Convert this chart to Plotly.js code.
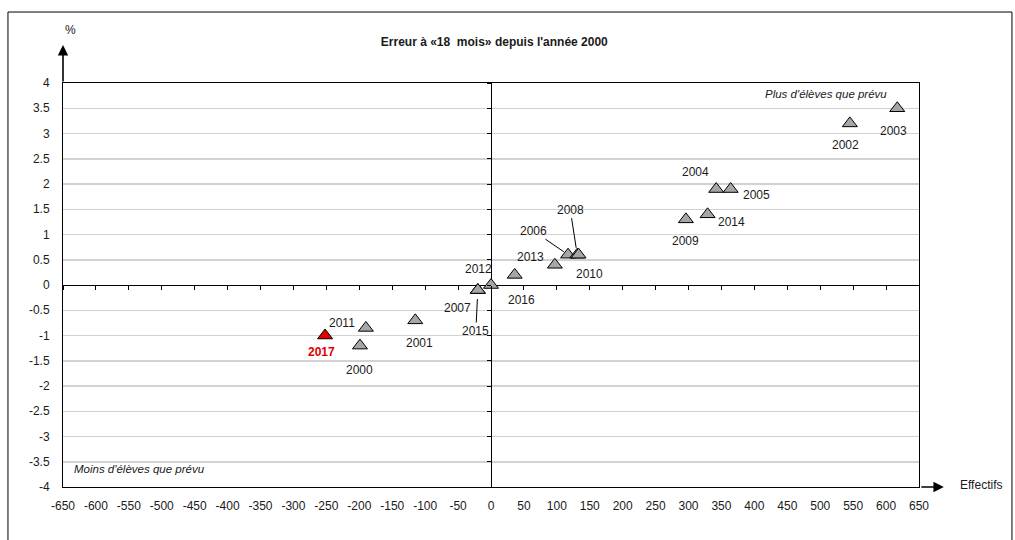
<!DOCTYPE html>
<html>
<head>
<meta charset="utf-8">
<script src="https://cdn.plot.ly/plotly-3.0.1.min.js"></script>
<style>
html,body{margin:0;padding:0;background:#fff;}
#chart{width:1015px;height:540px;}
</style>
</head>
<body>
<div id="chart"></div>
<script>
// ---- data ----
const years     = [2000, 2001, 2002, 2003, 2004, 2005, 2006, 2007, 2008, 2009, 2010, 2011, 2012, 2013, 2014, 2015, 2016, 2017];
const effectifs = [-199, -115, 545, 617, 342, 364, 117, -20, 131, 296, 133, -190, 0, 97, 329, -20, 36, -252];
const erreurs   = [-1.2, -0.7, 3.2, 3.5, 1.9, 1.9, 0.6, -0.1, 0.6, 1.3, 0.6, -0.85, 0, 0.4, 1.4, -0.1, 0.2, -1.0];
const xTicks    = [-650,-600,-550,-500,-450,-400,-350,-300,-250,-200,-150,-100,-50,0,50,100,150,200,250,300,350,400,450,500,550,600,650];
const yTicks    = [-4,-3.5,-3,-2.5,-2,-1.5,-1,-0.5,0,0.5,1,1.5,2,2.5,3,3.5,4];
const highlightYear = 2017;

// ---- label placement (style, pixel offsets) ----
const labelStyle = {
  2000:{dx:0,dy:-24}, 2001:{dx:4,dy:-23}, 2002:{dx:-4,dy:-22}, 2003:{dx:-4,dy:-23},
  2004:{dx:-21,dy:17}, 2005:{dx:26,dy:-6}, 2006:{arrow:true,ax:-35,ay:-24,standoff:5},
  2007:{dx:-20,dy:-18}, 2008:{arrow:true,ax:-7,ay:-45,standoff:7}, 2009:{dx:0,dy:-22},
  2010:{dx:11,dy:-19}, 2011:{dx:-24,dy:5}, 2012:{dx:-13,dy:16}, 2013:{dx:-24,dy:8},
  2014:{dx:24,dy:-8}, 2015:{arrow:true,ax:-2,ay:41,standoff:9}, 2016:{dx:7,dy:-25},
  2017:{dx:-4,dy:-16}
};

const FONT = "'Liberation Sans Narrow', 'Arial Narrow', 'Liberation Sans', Arial, sans-serif";

const markerColors = years.map(y => y === highlightYear ? '#e00000' : '#a6a6a6');

const traces = [
  {
    type:'scatter', mode:'markers', x:effectifs, y:erreurs, text:years.map(String),
    marker:{symbol:'triangle-up', size:13, color:markerColors, line:{color:'#000', width:1}},
    hoverinfo:'text+x+y', showlegend:false, cliponaxis:false
  },
  { type:'scatter', mode:'markers', x:[], y:[], xaxis:'x2', yaxis:'y2', showlegend:false, hoverinfo:'skip' }
];

const annotations = years.map((yr, i) => {
  const s = labelStyle[yr];
  const isHi = yr === highlightYear;
  const a = {
    x: effectifs[i], y: erreurs[i], xref:'x', yref:'y', text: String(yr),
    font:{family:FONT, size:12, color: isHi ? '#e00000' : '#1a1a1a', weight: isHi ? 'bold' : 'normal'}
  };
  if (s.arrow) {
    Object.assign(a, {showarrow:true, arrowhead:0, arrowwidth:1, arrowcolor:'#000', ax:s.ax, ay:s.ay, standoff:s.standoff});
  } else {
    Object.assign(a, {showarrow:false, xshift:s.dx, yshift:s.dy});
  }
  return a;
});

// axis arrows and free texts (paper coords)
annotations.push(
  {xref:'paper', yref:'paper', x:0, y:1.094, ax:0, ay:38, showarrow:true, arrowhead:2, arrowsize:1.3, arrowwidth:1.6, arrowcolor:'#000', text:''},
  {xref:'paper', yref:'paper', x:1.029, y:0, ax:-24, ay:0, showarrow:true, arrowhead:2, arrowsize:1.3, arrowwidth:1.6, arrowcolor:'#000', text:''},
  {xref:'paper', yref:'paper', x:0.0, y:1.132, yanchor:'middle', showarrow:false, text:'%', font:{family:FONT, size:12, color:'#1a1a1a'}},
  {xref:'paper', yref:'paper', x:1.045, y:0.005, xanchor:'left', yanchor:'middle', showarrow:false, text:'Effectifs', font:{family:FONT, size:12, color:'#1a1a1a'}},
  {xref:'paper', yref:'paper', x:0.965, y:0.973, xanchor:'right', yanchor:'middle', showarrow:false, text:"Plus d'élèves que prévu", font:{family:FONT, size:11.5, style:'italic', color:'#1a1a1a'}},
  {xref:'paper', yref:'paper', x:0.011, y:0.044, xanchor:'left', yanchor:'middle', showarrow:false, text:"Moins d'élèves que prévu", font:{family:FONT, size:11.5, style:'italic', color:'#1a1a1a'}}
);

const commonTickFont = {family:FONT, size:12, color:'#1a1a1a'};

const layout = {
  width:1015, height:540,
  margin:{l:63, r:96, t:83, b:53},
  paper_bgcolor:'#fff', plot_bgcolor:'#fff',
  title:{text:"<b>Erreur à «18  mois» depuis l'année 2000</b>", x:0.487, xanchor:'center', y:0.922, yanchor:'middle', yref:'container',
         font:{family:FONT, size:12, color:'#1a1a1a'}},
  xaxis:{range:[-650,650], tickmode:'array', tickvals:xTicks, ticktext:xTicks.map(String),
         showgrid:false, zeroline:true, zerolinecolor:'#000', zerolinewidth:1,
         showline:true, linecolor:'#000', linewidth:1, mirror:true, ticks:'', ticklabelstandoff:8,
         tickfont:commonTickFont, fixedrange:true},
  yaxis:{range:[-4,4], tickmode:'array', tickvals:yTicks, ticktext:yTicks.map(String),
         showgrid:true, gridcolor:'#d2d2d2', gridwidth:1.5, zeroline:true, zerolinecolor:'#000', zerolinewidth:1,
         showline:true, linecolor:'#000', linewidth:1, mirror:true, ticks:'', ticklabelstandoff:10,
         tickfont:commonTickFont, fixedrange:true},
  xaxis2:{overlaying:'x', anchor:'free', position:0.5, side:'bottom', range:[-650,650], tickmode:'array', tickvals:xTicks,
          ticks:'outside', ticklen:4, tickcolor:'#000', tickwidth:1, showticklabels:false, showgrid:false, zeroline:false, showline:false, fixedrange:true},
  yaxis2:{overlaying:'y', anchor:'free', position:0.5, side:'left', range:[-4,4], tickmode:'array', tickvals:yTicks,
          ticks:'outside', ticklen:4, tickcolor:'#000', tickwidth:1, showticklabels:false, showgrid:false, zeroline:false, showline:false, fixedrange:true},
  shapes:[
    {type:'rect', xref:'paper', yref:'paper', x0:-0.0643, x1:1.1086, y0:-0.15, y1:1.1757, line:{color:'#000', width:1}, fillcolor:'rgba(0,0,0,0)', layer:'below'}
  ],
  annotations:annotations,
  showlegend:false
};

Plotly.newPlot('chart', traces, layout, {displayModeBar:false, staticPlot:true});
</script>
</body>
</html>
